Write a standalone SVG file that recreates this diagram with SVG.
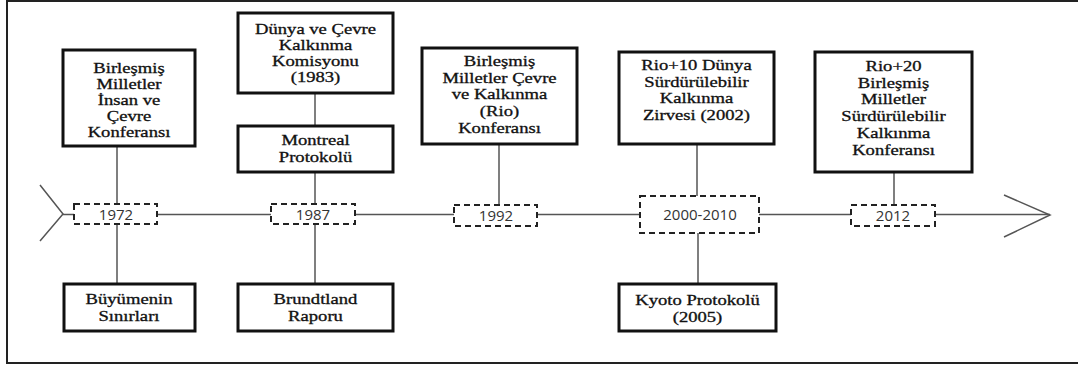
<svg xmlns="http://www.w3.org/2000/svg" width="1078" height="367" viewBox="0 0 1078 367">
<style>
.frame{fill:#fff;stroke:#222;stroke-width:2}
.box{fill:#fff;stroke:#111;stroke-width:3}
.dbox{fill:#fff;stroke:#222;stroke-width:2;stroke-dasharray:6 4}
.ln{stroke:#555;stroke-width:1.5;fill:none}
.t{font-family:"Liberation Serif","Times New Roman",serif;font-size:14px;fill:#111;stroke:#111;stroke-width:0.3;text-anchor:middle}
.y{font-family:"Open Sans","Liberation Sans",sans-serif;font-size:15px;fill:#333;text-anchor:middle}
</style>
<rect class="frame" x="7" y="1" width="1080" height="362"/>
<g id="connectors">
<path class="ln" d="M40,185 L63,214 L40,241"/>
<path class="ln" d="M1004,195 L1050,215 L1004,237"/>
<path class="ln" d="M63,214.5 H74 M157,214.5 H271 M355,214.5 H454 M537,214.5 H640 M759,214.5 H851 M935,214.5 H1050"/>
<path class="ln" d="M117,146 V204 M117,224 V284"/>
<path class="ln" d="M315,93 V126 M315,172 V204 M315,224 V284"/>
<path class="ln" d="M499,144 V206"/>
<path class="ln" d="M697,144 V204 M698,233 V284"/>
<path class="ln" d="M894,172 V205"/>
</g>
<g id="y1972"><rect class="dbox" x="74" y="204" width="83" height="20"/><text class="y" x="116" y="220">1972</text></g>
<g id="y1987"><rect class="dbox" x="271" y="204" width="84" height="20"/><text class="y" x="313" y="220">1987</text></g>
<g id="y1992"><rect class="dbox" x="454" y="205" width="83" height="21"/><text class="y" x="496" y="221">1992</text></g>
<g id="y2000"><rect class="dbox" x="640" y="196" width="119" height="37"/><text class="y" x="700" y="220">2000-2010</text></g>
<g id="y2012"><rect class="dbox" x="851" y="205" width="84" height="21"/><text class="y" x="893" y="221">2012</text></g>
<g id="n1"><rect class="box" x="63" y="50" width="132" height="96"/>
<text class="t" transform="translate(129,0) scale(1.33,1)"><tspan x="0" y="73">Birleşmiş</tspan><tspan x="0" y="89">Milletler</tspan><tspan x="0" y="105">İnsan ve</tspan><tspan x="0" y="121">Çevre</tspan><tspan x="0" y="137">Konferansı</tspan></text></g>
<g id="n2"><rect class="box" x="64" y="284" width="131" height="47"/>
<text class="t" transform="translate(129,0) scale(1.33,1)"><tspan x="0" y="304">Büyümenin</tspan><tspan x="0" y="321">Sınırları</tspan></text></g>
<g id="n3"><rect class="box" x="238" y="13" width="155" height="80"/>
<text class="t" transform="translate(315.5,0) scale(1.33,1)"><tspan x="0" y="34">Dünya ve Çevre</tspan><tspan x="0" y="50">Kalkınma</tspan><tspan x="0" y="66">Komisyonu</tspan><tspan x="0" y="82">(1983)</tspan></text></g>
<g id="n4"><rect class="box" x="238" y="126" width="155" height="46"/>
<text class="t" transform="translate(315.5,0) scale(1.33,1)"><tspan x="0" y="145">Montreal</tspan><tspan x="0" y="162">Protokolü</tspan></text></g>
<g id="n5"><rect class="box" x="238" y="284" width="155" height="47"/>
<text class="t" transform="translate(315.5,0) scale(1.33,1)"><tspan x="0" y="304">Brundtland</tspan><tspan x="0" y="321">Raporu</tspan></text></g>
<g id="n6"><rect class="box" x="422" y="48" width="155" height="96"/>
<text class="t" transform="translate(499.5,0) scale(1.33,1)"><tspan x="0" y="66">Birleşmiş</tspan><tspan x="0" y="83">Milletler  Çevre</tspan><tspan x="0" y="99.5">ve Kalkınma</tspan><tspan x="0" y="116">(Rio)</tspan><tspan x="0" y="133">Konferansı</tspan></text></g>
<g id="n7"><rect class="box" x="619" y="52" width="155" height="92"/>
<text class="t" transform="translate(696.5,0) scale(1.33,1)"><tspan x="0" y="70">Rio+10 Dünya</tspan><tspan x="0" y="87">Sürdürülebilir</tspan><tspan x="0" y="103.5">Kalkınma</tspan><tspan x="0" y="120">Zirvesi (2002)</tspan></text></g>
<g id="n8"><rect class="box" x="619" y="284" width="157" height="47"/>
<text class="t" transform="translate(697.5,0) scale(1.33,1)"><tspan x="0" y="305">Kyoto Protokolü</tspan><tspan x="0" y="322">(2005)</tspan></text></g>
<g id="n9"><rect class="box" x="815" y="52" width="157" height="120"/>
<text class="t" transform="translate(893.5,0) scale(1.33,1)"><tspan x="0" y="71">Rio+20</tspan><tspan x="0" y="88">Birleşmiş</tspan><tspan x="0" y="104.5">Milletler</tspan><tspan x="0" y="121">Sürdürülebilir</tspan><tspan x="0" y="138">Kalkınma</tspan><tspan x="0" y="155">Konferansı</tspan></text></g>
</svg>
